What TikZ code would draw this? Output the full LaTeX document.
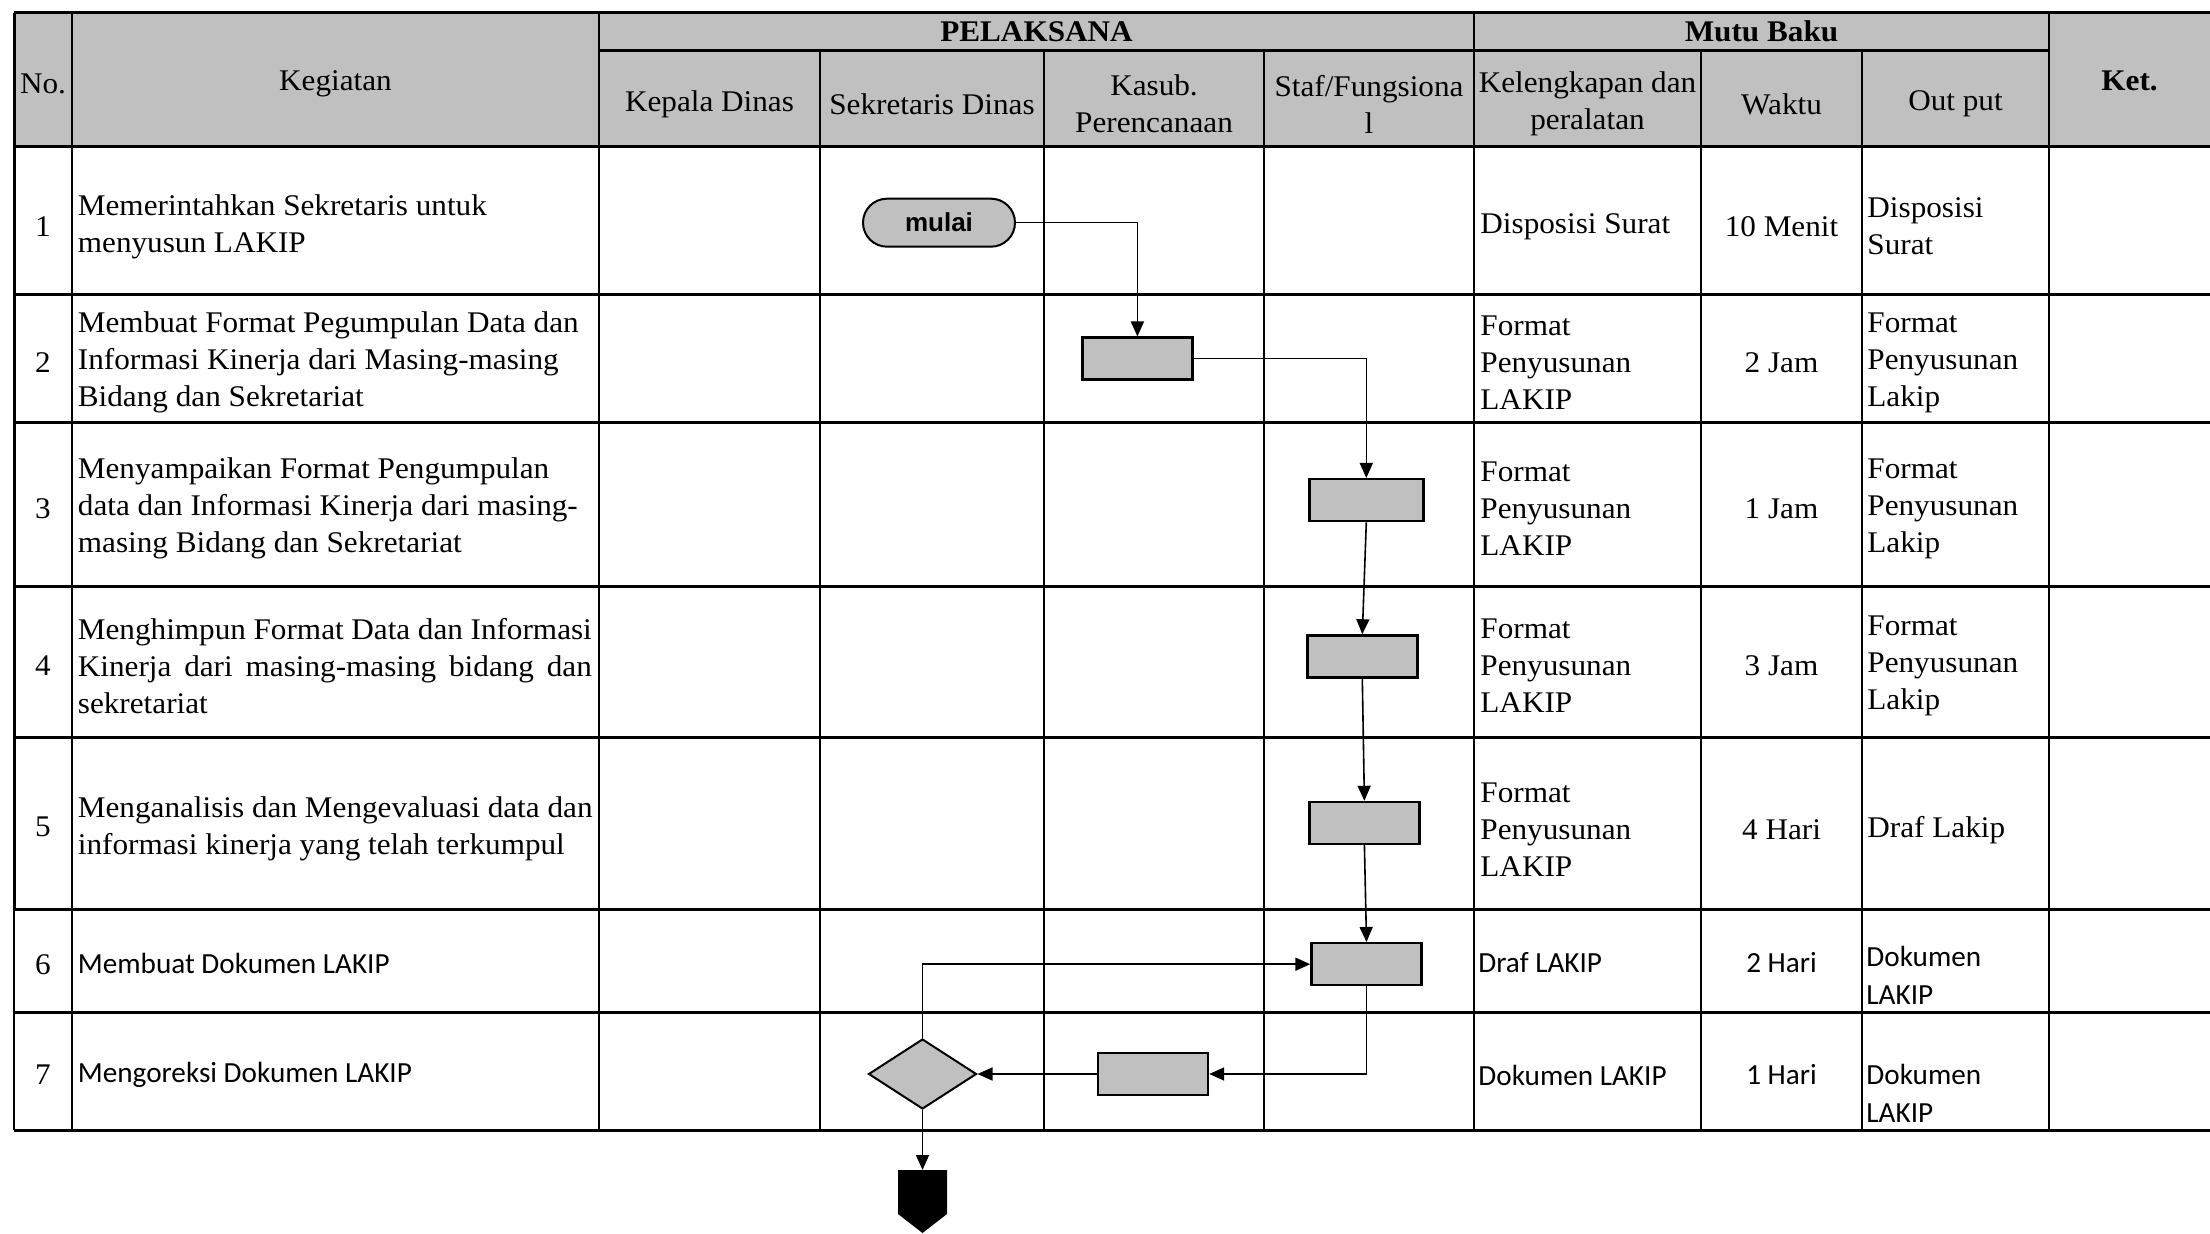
\documentclass[tikz,border=0pt]{standalone}
\usepackage{fontspec}
\setmainfont{Liberation Serif}
\newfontfamily\camf{Liberation Serif}[FakeStretch=1.04]
\newfontfamily\calf{Carlito}
\newfontfamily\arf{Liberation Sans}
\usetikzlibrary{shapes.geometric,shapes.misc,arrows.meta}
\definecolor{hdrgray}{RGB}{192,192,192}
\begin{document}
\begin{tikzpicture}[x=0.5pt,y=-0.5pt,
  cam/.style={font=\camf\fontsize{15}{18.5}\selectfont, inner sep=0pt, align=left, yshift=-2pt},
  camc/.style={cam, align=center},
  camb/.style={font=\camf\bfseries\fontsize{15}{18.5}\selectfont, inner sep=0pt},
  cal/.style={font=\calf\fontsize{14.6}{19}\selectfont, inner sep=0pt, align=left, yshift=-1pt},
  rowline/.style={line width=1.5pt},
  colline/.style={line width=1.2pt},
  proc/.style={draw, line width=1.2pt, fill=hdrgray, minimum width=55pt, minimum height=21pt, inner sep=0pt},
  arr/.style={line width=0.8pt, -{Triangle[length=7.5pt,width=6.5pt]}},
]
\fill[white] (0,0) rectangle (2210,1234);
\useasboundingbox (0,0) rectangle (2210,1234);
% header fill
\fill[hdrgray] (14,12.7) rectangle (2210,146.6);
% horizontal lines
\draw[rowline] (14,12.7) -- (2210,12.7);
\draw[rowline] (599,50.7) -- (2049,50.7);
\foreach \yy in {146.6,294.6,422.8,586.3,737.1,909,1012,1130}
  \draw[rowline] (14,\yy) -- (2210,\yy);
% vertical lines
\draw[rowline] (14,12.7) -- (14,909);
\draw[colline] (14,909) -- (14,1130);
\foreach \xx in {72,599,1474,2049}
  \draw[colline] (\xx,12.7) -- (\xx,1130);
\foreach \xx in {820,1044,1264,1701,1862}
  \draw[colline] (\xx,50.7) -- (\xx,1130);

% header texts
\node[cam] (hno) at (43,80) {No.};
\node[cam] (hkeg) at (335.5,80) {Kegiatan};
\node[camb] (hpel) at (1036.5,31.7) {PELAKSANA};
\node[camb] (hmutu) at (1761.5,31) {Mutu Baku};
\node[camb] (hket) at (2129.5,81) {Ket.};
\node[cam] (hkep) at (709.5,100) {Kepala Dinas};
\node[cam] (hsek) at (932,100) {Sekretaris Dinas};
\node[camc] (hkas) at (1154,100) {Kasub.\\Perencanaan};
\node[camc] (hstaf) at (1369,100) {Staf/Fungsiona\\l};
\node[camc] (hkel) at (1587.5,100) {Kelengkapan dan\\peralatan};
\node[cam] (hwak) at (1781.5,100) {Waktu};
\node[cam] (hout) at (1955.5,100) {Out put};

% row numbers
\node[cam] (n1) at (43,222.6) {1};
\node[cam] (n2) at (43,358.7) {2};
\node[cam] (n3) at (43,504.5) {3};
\node[cam] (n4) at (43,661.7) {4};
\node[cam] (n5) at (43,823) {5};
\node[cam] (n6) at (43,960.5) {6};
\node[cam] (n7) at (43,1071) {7};

% kegiatan
\node[cam, anchor=west] (k1) at (77.5,222.6) {Memerintahkan Sekretaris untuk\\menyusun LAKIP};
\node[cam, anchor=west] (k2) at (77.5,358.7) {Membuat Format Pegumpulan Data dan\\Informasi Kinerja dari Masing-masing\\Bidang dan Sekretariat};
\node[cam, anchor=west] (k3) at (77.5,504.5) {Menyampaikan Format Pengumpulan\\data dan Informasi Kinerja dari masing-\\masing Bidang dan Sekretariat};
\node[cam, anchor=west] (k4) at (77.5,661.7) {\makebox[257pt][s]{Menghimpun Format Data dan Informasi}\\\makebox[257pt][s]{Kinerja dari masing-masing bidang dan}\\sekretariat};
\node[cam, anchor=west] (k5) at (77.5,825) {Menganalisis dan Mengevaluasi data dan\\informasi kinerja yang telah terkumpul};
\node[cal, anchor=west] (k6) at (77.5,961) {Membuat Dokumen LAKIP};
\node[cal, anchor=west] (k7) at (77.5,1073) {Mengoreksi Dokumen LAKIP};

% kelengkapan
\node[cam, anchor=west] (kl1) at (1480,222.6) {Disposisi Surat};
\node[cam, anchor=west] (kl2) at (1480,358.7) {Format\\Penyusunan\\LAKIP};
\node[cam, anchor=west] (kl3) at (1480,504.5) {Format\\Penyusunan\\LAKIP};
\node[cam, anchor=west] (kl4) at (1480,661.7) {Format\\Penyusunan\\LAKIP};
\node[cam, anchor=west] (kl5) at (1480,826) {Format\\Penyusunan\\LAKIP};
\node[cal, anchor=west] (kl6) at (1478,961) {Draf LAKIP};
\node[cal, anchor=west] (kl7) at (1478,1073) {Dokumen LAKIP};

% waktu
\node[cam] (w1) at (1781.5,222.6) {10 Menit};
\node[cam] (w2) at (1781.5,358.7) {2 Jam};
\node[cam] (w3) at (1781.5,504.5) {1 Jam};
\node[cam] (w4) at (1781.5,661.7) {3 Jam};
\node[cam] (w5) at (1781.5,826) {4 Hari};
\node[cal] (w6) at (1781.5,961) {2 Hari};
\node[cal] (w7) at (1781.5,1073) {1 Hari};

% output
\node[cam, anchor=west] (o1) at (1867,222.6) {Disposisi\\Surat};
\node[cam, anchor=west] (o2) at (1867,358.7) {Format\\Penyusunan\\Lakip};
\node[cam, anchor=west] (o3) at (1867,504.5) {Format\\Penyusunan\\Lakip};
\node[cam, anchor=west] (o4) at (1867,661.7) {Format\\Penyusunan\\Lakip};
\node[cam, anchor=west] (o5) at (1867,826) {Draf Lakip};
\node[cal, anchor=west] (o6) at (1866,973) {Dokumen\\LAKIP};
\node[cal, anchor=west] (o7) at (1866,1091) {Dokumen\\LAKIP};

% flow shapes
\node[rounded rectangle, draw, line width=1pt, fill=hdrgray, minimum width=76pt, minimum height=24pt, inner sep=0pt, font=\arf\bfseries\fontsize{13}{15}\selectfont] (mulai) at (939,222.7) {mulai};
\node[proc] (b2) at (1137.4,358.7) {};
\node[proc, minimum width=57pt] (b3) at (1366.3,500.2) {};
\node[proc] (b4) at (1362.3,656.4) {};
\node[proc] (b5) at (1364.4,823) {};
\node[proc] (b6) at (1366.5,964.2) {};
\node[proc] (b7) at (1153,1074) {};
\node[diamond, draw, line width=1pt, fill=hdrgray, minimum width=54pt, minimum height=35pt, inner sep=0pt] (dia) at (922.5,1074) {};
\coordinate (off) at (922.5,1170);
\fill[black] (898,1170) -- (947,1170) -- (947,1214) -- (922.5,1233) -- (898,1214) -- cycle;

% connectors
\draw[arr] (mulai.east) -| (b2.north);
\draw[arr] (b2.east) -| (b3.north);
\draw[arr] (b3.south) -- (b4.north);
\draw[arr] (b4.south) -- (b5.north);
\draw[arr] (b5.south) -- (b6.north);
\draw[arr] (b6.south) |- (b7.east);
\draw[arr] (b7.west) -- (dia.east);
\draw[arr] (dia.north) |- (b6.west);
\draw[arr] (dia.south) -- (off);
\end{tikzpicture}
\end{document}
